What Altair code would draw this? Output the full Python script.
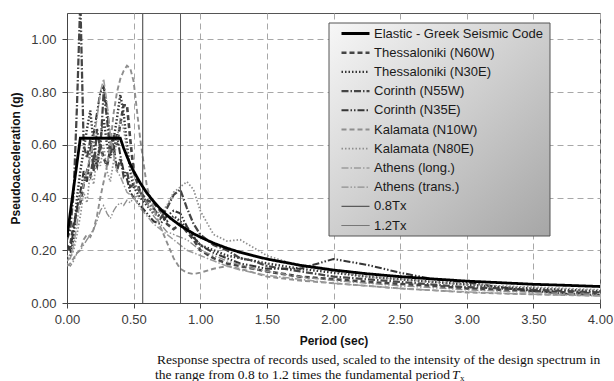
import altair as alt
import pandas as pd

# ---------------- data ----------------
PERIODS = [0, 0.025, 0.05, 0.075, 0.1, 0.125, 0.15, 0.175, 0.2, 0.225, 0.25, 0.275, 0.3,
           0.325, 0.35, 0.375, 0.4, 0.425, 0.45, 0.475, 0.5,
           0.55, 0.6, 0.65, 0.7, 0.75, 0.8, 0.85, 0.9, 0.95, 1.0,
           1.1, 1.2, 1.3, 1.4, 1.5,
           1.75, 2.0, 2.25, 2.5, 2.75, 3.0, 3.25, 3.5, 3.75, 4.0]

ELASTIC_T = [0, 0.1, 0.4, 0.425, 0.45, 0.475, 0.5, 0.55, 0.6, 0.65, 0.7, 0.75, 0.8, 0.85,
             0.9, 0.95, 1.0, 1.1, 1.2, 1.3, 1.4, 1.5, 1.75, 2.0, 2.25, 2.5, 2.75, 3.0,
             3.25, 3.5, 3.75, 4.0]
ELASTIC_SA = [0.25, 0.625, 0.625, 0.588, 0.556, 0.526, 0.50, 0.455, 0.417, 0.385, 0.357,
              0.333, 0.3125, 0.294, 0.278, 0.263, 0.25, 0.227, 0.208, 0.192, 0.179, 0.167,
              0.143, 0.125, 0.111, 0.10, 0.091, 0.083, 0.077, 0.071, 0.067, 0.0625]

THESS_N60W = [0.20, 0.22, 0.30, 0.35, 0.38, 0.45, 0.50, 0.48, 0.55, 0.52, 0.60, 0.55, 0.52,
              0.58, 0.64, 0.60, 0.68, 0.75, 0.75, 0.62, 0.50,
              0.42, 0.39, 0.38, 0.35, 0.30, 0.28, 0.30, 0.27, 0.24, 0.20,
              0.17, 0.15, 0.14, 0.13, 0.12,
              0.10, 0.09, 0.08, 0.072, 0.065, 0.055, 0.05, 0.045, 0.04, 0.035]
THESS_N30E = [0.17, 0.18, 0.25, 0.40, 0.50, 0.58, 0.66, 0.73, 0.60, 0.52, 0.62, 0.70, 0.60,
              0.55, 0.62, 0.70, 0.79, 0.72, 0.60, 0.50, 0.44,
              0.40, 0.37, 0.34, 0.33, 0.31, 0.33, 0.31, 0.28, 0.25, 0.22,
              0.20, 0.18, 0.17, 0.16, 0.15,
              0.13, 0.115, 0.10, 0.09, 0.08, 0.07, 0.06, 0.055, 0.05, 0.045]
CORINTH_N55W = [0.24, 0.28, 0.42, 0.75, 1.15, 0.60, 0.55, 0.62, 0.50, 0.66, 0.58, 0.80, 0.70,
                0.56, 0.60, 0.50, 0.55, 0.48, 0.50, 0.44, 0.45,
                0.42, 0.38, 0.36, 0.32, 0.36, 0.41, 0.43, 0.36, 0.30, 0.26,
                0.22, 0.20, 0.17, 0.16, 0.14,
                0.12, 0.10, 0.09, 0.08, 0.07, 0.06, 0.055, 0.05, 0.045, 0.04]
CORINTH_N35E = [0.22, 0.20, 0.28, 0.36, 0.42, 0.50, 0.46, 0.58, 0.64, 0.72, 0.80, 0.82, 0.74,
                0.62, 0.58, 0.64, 0.56, 0.50, 0.47, 0.42, 0.40,
                0.37, 0.34, 0.31, 0.30, 0.33, 0.35, 0.34, 0.29, 0.25, 0.22,
                0.19, 0.17, 0.15, 0.14, 0.13,
                0.13, 0.167, 0.145, 0.115, 0.09, 0.078, 0.06, 0.045, 0.035, 0.03]
KALAMATA_N10W = [0.14, 0.15, 0.17, 0.19, 0.20, 0.24, 0.26, 0.25, 0.28, 0.33, 0.40, 0.46, 0.52,
                 0.60, 0.72, 0.80, 0.85, 0.88, 0.90, 0.89, 0.84,
                 0.62, 0.44, 0.36, 0.29, 0.23, 0.17, 0.13, 0.115, 0.11, 0.115,
                 0.13, 0.14, 0.13, 0.115, 0.10,
                 0.085, 0.075, 0.065, 0.055, 0.048, 0.04, 0.036, 0.033, 0.03, 0.028]
KALAMATA_N80E = [0.18, 0.17, 0.20, 0.26, 0.33, 0.42, 0.38, 0.50, 0.45, 0.56, 0.52, 0.60, 0.50,
                 0.46, 0.54, 0.62, 0.70, 0.66, 0.58, 0.52, 0.46,
                 0.42, 0.38, 0.35, 0.34, 0.37, 0.42, 0.44, 0.46, 0.43, 0.35,
                 0.26, 0.235, 0.24, 0.21, 0.18,
                 0.14, 0.12, 0.10, 0.09, 0.08, 0.07, 0.065, 0.06, 0.055, 0.05]
ATHENS_LONG = [0.16, 0.17, 0.22, 0.30, 0.40, 0.45, 0.50, 0.56, 0.62, 0.70, 0.80, 0.85, 0.76,
               0.64, 0.56, 0.50, 0.48, 0.45, 0.42, 0.41, 0.40,
               0.36, 0.33, 0.30, 0.28, 0.26, 0.24, 0.22, 0.20, 0.19, 0.18,
               0.16, 0.14, 0.125, 0.115, 0.105,
               0.09, 0.075, 0.065, 0.055, 0.048, 0.042, 0.037, 0.033, 0.03, 0.027]
ATHENS_TRANS = [0.15, 0.14, 0.16, 0.19, 0.20, 0.22, 0.24, 0.26, 0.28, 0.31, 0.35, 0.37, 0.34,
                0.32, 0.35, 0.37, 0.38, 0.37, 0.39, 0.38, 0.40,
                0.41, 0.38, 0.33, 0.30, 0.27, 0.26, 0.25, 0.24, 0.22, 0.20,
                0.18, 0.16, 0.145, 0.13, 0.12,
                0.10, 0.085, 0.075, 0.065, 0.058, 0.05, 0.045, 0.04, 0.036, 0.032]

TX_LINES = [0.568, 0.852]
TX_RANGE = [0.0, 1.1]

SERIES = ["Elastic - Greek Seismic Code", "Thessaloniki (N60W)", "Thessaloniki (N30E)",
          "Corinth (N55W)", "Corinth (N35E)", "Kalamata (N10W)", "Kalamata (N80E)",
          "Athens (long.)", "Athens (trans.)", "0.8Tx", "1.2Tx"]
RECORDS = [THESS_N60W, THESS_N30E, CORINTH_N55W, CORINTH_N35E,
           KALAMATA_N10W, KALAMATA_N80E, ATHENS_LONG, ATHENS_TRANS]

X_TICKS = [0, 0.5, 1.0, 1.5, 2.0, 2.5, 3.0, 3.5, 4.0]
Y_TICKS = [0, 0.2, 0.4, 0.6, 0.8, 1.0]

CAPTION_1 = "Response spectra of records used, scaled to the intensity of the design spectrum in"
CAPTION_2 = "the range from 0.8 to 1.2 times the fundamental period"

# ---------------- styles ----------------
COLORS = ["#000000", "#454545", "#353535", "#454545", "#353535",
          "#8e8e8e", "#8e8e8e", "#9c9c9c", "#8e8e8e", "#5a5a5a", "#5a5a5a"]
DASHES = [[1, 0], [5, 3], [1.5, 2], [7, 2, 1.5, 2], [7, 2, 1.5, 2, 1.5, 2],
          [5, 3], [1.5, 2], [7, 2, 1.5, 2], [7, 2, 1.5, 2, 1.5, 2], [1, 0], [1, 0]]
WIDTHS = [2.8, 1.0, 1.1, 1.0, 1.0, 1.0, 1.1, 1.0, 1.0, 1.1, 1.1]

rec_rows = []
for name, vals in zip(SERIES[1:9], RECORDS):
    assert len(vals) == len(PERIODS)
    for t, v in zip(PERIODS, vals):
        rec_rows.append({"series": name, "T": t, "Sa": v})
rec_df = pd.DataFrame(rec_rows)

el_df = pd.DataFrame({"series": SERIES[0], "T": ELASTIC_T, "Sa": ELASTIC_SA})

tx_rows = []
for name, t in zip(SERIES[9:], TX_LINES):
    for v in TX_RANGE:
        tx_rows.append({"series": name, "T": t, "Sa": v})
tx_df = pd.DataFrame(tx_rows)

FONT = "Liberation Sans"

x_enc = alt.X("T:Q", scale=alt.Scale(domain=[0, 4], nice=False),
              axis=alt.Axis(values=X_TICKS, format=".2f", title="Period (sec)",
                            titlePadding=9, labelPadding=5, labelFlush=False))
y_enc = alt.Y("Sa:Q", scale=alt.Scale(domain=[0, 1.1], nice=False),
              axis=alt.Axis(values=Y_TICKS, format=".2f", title="Pseudoacceleration (g)",
                            titlePadding=8, labelPadding=6, labelFlush=False))
col_enc = alt.Color("series:N", scale=alt.Scale(domain=SERIES, range=COLORS),
                    legend=alt.Legend(title=None))
dash_enc = alt.StrokeDash("series:N", scale=alt.Scale(domain=SERIES, range=DASHES),
                          legend=alt.Legend(title=None))
width_enc = alt.StrokeWidth("series:N", scale=alt.Scale(domain=SERIES, range=WIDTHS),
                            legend=alt.Legend(title=None))

records = alt.Chart(rec_df).mark_line(clip=True).encode(
    x=x_enc, y=y_enc, color=col_enc, strokeDash=dash_enc, strokeWidth=width_enc,
    detail="series:N")

txlines = alt.Chart(tx_df).mark_line(clip=True).encode(
    x=x_enc, y=y_enc, color=col_enc, strokeDash=dash_enc, strokeWidth=width_enc,
    detail="series:N")

elastic = alt.Chart(el_df).mark_line(clip=True).encode(
    x=x_enc, y=y_enc, color=col_enc, strokeDash=dash_enc, strokeWidth=width_enc)

legend_box = alt.Chart(alt.Data(values=[{}])).mark_rect(
    fill=alt.LinearGradient(gradient="linear",
                            stops=[alt.GradientStop(color="#f7f7f7", offset=0),
                                   alt.GradientStop(color="#a6a6a6", offset=1)],
                            x1=0, y1=0, x2=1, y2=1),
    stroke="#555555", strokeWidth=1).encode(
    x=alt.value(262), x2=alt.value(483), y=alt.value(10), y2=alt.value(223))

CAP_FONT = "Liberation Serif"
cap1 = alt.Chart(alt.Data(values=[{}])).mark_text(
    font=CAP_FONT, fontSize=13.5, align="left", baseline="middle", color="#111111"
).encode(x=alt.value(90), y=alt.value(346.5), text=alt.value(CAPTION_1))
cap2 = alt.Chart(alt.Data(values=[{}])).mark_text(
    font=CAP_FONT, fontSize=13.5, align="left", baseline="middle", color="#111111"
).encode(x=alt.value(88), y=alt.value(361.5), text=alt.value(CAPTION_2))
cap_t = alt.Chart(alt.Data(values=[{}])).mark_text(
    font=CAP_FONT, fontSize=13.5, fontStyle="italic", align="left",
    baseline="middle", color="#111111"
).encode(x=alt.value(385), y=alt.value(361.5), text=alt.value("T"))
cap_x = alt.Chart(alt.Data(values=[{}])).mark_text(
    font=CAP_FONT, fontSize=9, align="left", baseline="middle", color="#111111"
).encode(x=alt.value(393), y=alt.value(364.5), text=alt.value("x"))

chart = alt.layer(records, txlines, elastic, legend_box, cap1, cap2, cap_t, cap_x).properties(
    width=533, height=290,
    padding={"left": 67, "top": 13, "right": 14, "bottom": 78},
    autosize="none",
    background="white",
).configure_view(
    stroke="#555555", strokeWidth=1
).configure_axis(
    labelFont=FONT, labelFontSize=13, labelColor="#3a3a3a",
    titleFont=FONT, titleFontSize=12, titleFontWeight="bold", titleColor="#111111",
    domainColor="#444444", tickColor="#444444", tickSize=5,
    grid=True, gridColor="#a8a8a8", gridDash=[6, 4], gridWidth=1,
).configure_legend(
    orient="none", legendX=273, legendY=14,
    labelFont=FONT, labelFontSize=13, labelColor="#1a1a1a", labelLimit=0,
    symbolType="stroke", symbolSize=784, labelOffset=3,
    rowPadding=5.2, clipHeight=13, padding=0,
)

chart.save("out.html", embed_options={"renderer": "svg", "actions": False})
